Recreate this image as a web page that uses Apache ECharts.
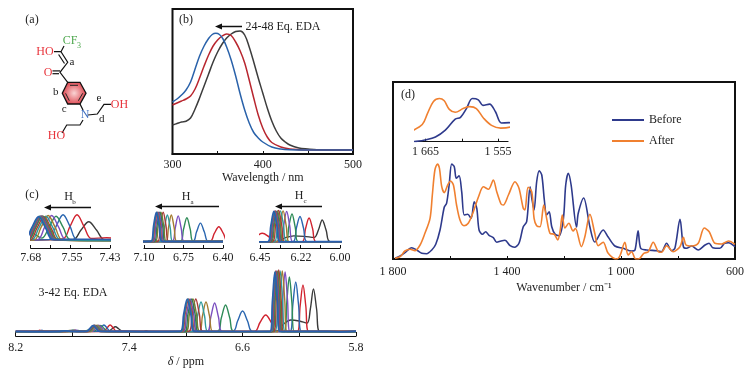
<!DOCTYPE html>
<html><head><meta charset="utf-8">
<style>html,body{margin:0;padding:0;background:#fff}#c{width:754px;height:370px}</style>
<script src="https://cdn.jsdelivr.net/npm/echarts@6/dist/echarts.min.js"></script>
</head><body><div id="c"></div>
<script>
const FONT = '"Liberation Serif", serif';

// (b) UV-vis: [wavelength nm, absorbance a.u.]
const uvBlack = [[300,29],[305,30.5],[310,32],[315,32.8],[320,36],[325,45],[330,56],[335,68],[340,80],[345,92],[350,102],[355,110],[360,116],[365,120],[370,122.5],[375,123],[380,119],[385,107],[390,92],[395,76],[400,61],[405,46],[410,33],[415,23],[420,16],[425,12],[430,9],[440,6],[450,5],[460,4.3],[500,4]];
const uvRed = [[300,49],[305,51],[310,53],[315,55],[320,58],[325,65],[330,76],[335,88],[340,99],[345,108],[350,114],[355,118],[360,120],[365,118.5],[370,112],[375,103],[380,91],[385,74],[390,56],[395,39],[400,26],[405,17],[410,11.5],[420,7],[430,5],[440,4.3],[450,4],[500,4]];
const uvBlue = [[300,52],[305,55],[310,59],[315,64],[320,72],[325,85],[330,98],[335,108],[340,115.5],[344,119.5],[348,120.7],[352,119.5],[356,115],[360,107],[365,94],[370,78],[375,60],[380,44],[385,31],[390,21.5],[395,16],[400,12],[410,7],[420,5],[430,4.3],[450,4],[500,4]];
const uvTicks = [300,350,400,450,500];
const uvLabels = [300,400,500];

// (c) 1H NMR titration: [ppm, intensity a.u.]
const nmr01 = [[5.8,.5],[6.055,.5],[6.078,23],[6.10,43],[6.122,23],[6.145,9],[6.20,11],[6.26,12],[6.31,8],[6.36,1],[6.55,.5],[7.26,.5],[7.28,1.4],[7.30,.5],[7.447,.6],[7.472,3],[7.497,5.2],[7.522,3],[7.547,.6],[8.2,.5]];
const nmr02 = [[5.8,.4],[6.134,.5],[6.154,26],[6.174,47],[6.194,26],[6.214,.5],[6.357,.5],[6.397,9.5],[6.437,17],[6.477,9.5],[6.517,.5],[7.38,.6],[7.44,1.1],[7.489,.9],[7.512,4],[7.534,7],[7.556,4],[7.579,.8],[7.70,.5],[8.01,.5],[8.03,1.8],[8.05,.5],[8.2,.5]];
const nmr03 = [[5.8,.6],[6.185,.6],[6.205,27],[6.225,50],[6.245,28],[6.265,.6],[6.53,.5],[6.565,11],[6.60,21],[6.635,11],[6.67,.5],[7.40,.5],[7.533,.6],[7.556,4],[7.578,7],[7.6,4],[7.623,.6],[7.76,.5],[7.80,1.5],[7.84,.5],[8.0,.5],[8.015,1.8],[8.03,.5],[8.2,.5]];
const nmr04 = [[5.8,.4],[6.235,.4],[6.252,29],[6.27,55],[6.288,30],[6.305,.4],[6.66,.5],[6.69,14],[6.72,27],[6.75,14],[6.78,.5],[7.45,.4],[7.555,.6],[7.578,3.8],[7.60,6.6],[7.622,3.8],[7.645,1],[7.68,2.4],[7.72,.5],[7.76,1.6],[7.80,.5],[8.2,.4]];
const nmr05 = [[5.8,.5],[6.265,.5],[6.283,32],[6.30,60],[6.317,32],[6.335,.5],[6.742,.4],[6.77,15],[6.797,29],[6.824,15],[6.852,.4],[7.5,.5],[7.569,.6],[7.592,3.8],[7.614,6.8],[7.636,3.8],[7.659,.6],[7.74,.6],[7.78,2],[7.82,.6],[8.2,.5]];
const nmr06 = [[5.8,.3],[6.285,.3],[6.303,33],[6.32,61],[6.337,33],[6.355,.3],[6.808,.5],[6.833,16],[6.858,30],[6.883,16],[6.908,.5],[7.5,.3],[7.58,.5],[7.603,3.8],[7.625,6.8],[7.647,3.8],[7.67,.5],[7.75,.4],[7.79,1.8],[7.83,.4],[8.2,.3]];
const nmr07 = [[5.8,.6],[6.30,.6],[6.318,33],[6.335,61],[6.352,33],[6.37,.6],[6.843,.4],[6.868,16],[6.893,30],[6.918,16],[6.943,.4],[7.5,.6],[7.587,.6],[7.61,3.7],[7.632,6.6],[7.654,3.7],[7.677,.6],[7.76,.6],[7.80,1.7],[7.84,.6],[8.2,.5]];
const nmr08 = [[5.8,.4],[6.31,.4],[6.328,33],[6.345,62],[6.362,33],[6.38,.4],[6.88,.6],[6.905,18],[6.93,33],[6.955,18],[6.98,.6],[7.5,.4],[7.593,.5],[7.616,3.6],[7.638,6.5],[7.66,3.6],[7.683,.5],[7.77,.5],[7.81,1.6],[7.85,.5],[8.2,.4]];
const nmr09 = [[5.8,.7],[6.317,.7],[6.335,33],[6.352,61],[6.369,33],[6.387,.7],[6.90,.5],[6.925,18],[6.95,33],[6.975,18],[7.0,.5],[7.5,.6],[7.597,.7],[7.62,3.7],[7.642,6.7],[7.664,3.7],[7.687,.7],[7.78,.6],[7.82,1.5],[7.86,.6],[8.2,.6]];
const nmr10 = [[5.8,.3],[6.323,.3],[6.341,32],[6.358,60],[6.375,32],[6.393,.3],[6.91,.4],[6.935,18],[6.96,33],[6.985,18],[7.01,.4],[7.5,.4],[7.6,.5],[7.623,3.6],[7.645,6.6],[7.667,3.6],[7.69,.5],[7.78,.5],[7.83,1.4],[7.87,.5],[8.2,.4]];
const nmr11 = [[5.8,.5],[6.327,.5],[6.345,33],[6.362,61],[6.379,33],[6.397,.5],[6.92,.6],[6.945,18],[6.97,33],[6.995,18],[7.02,.6],[7.5,.5],[7.602,.6],[7.625,3.7],[7.647,6.7],[7.669,3.7],[7.692,.6],[7.79,.5],[7.84,1.3],[7.88,.5],[8.2,.5]];
const nmr12 = [[5.8,.6],[6.331,.6],[6.349,33],[6.366,61],[6.383,33],[6.401,.6],[6.93,.4],[6.955,18],[6.98,33],[7.005,18],[7.03,.4],[7.5,.6],[7.605,.5],[7.628,3.6],[7.65,6.6],[7.672,3.6],[7.695,.5],[7.8,.6],[7.85,1.3],[7.89,.6],[8.2,.6]];
const nmr13 = [[5.8,.4],[6.334,.4],[6.352,32],[6.369,60],[6.386,32],[6.404,.4],[6.935,.5],[6.96,18],[6.985,33],[7.01,18],[7.035,.5],[7.5,.4],[7.607,.6],[7.63,3.6],[7.652,6.6],[7.674,3.6],[7.697,.6],[7.8,.4],[7.85,1.2],[7.9,.4],[8.2,.4]];
const nmr14 = [[5.8,.8],[5.9,.2],[6.0,.7],[6.337,.5],[6.355,32],[6.372,60],[6.389,32],[6.407,.5],[6.94,.6],[6.965,18],[6.99,33],[7.015,18],[7.04,.6],[7.3,.4],[7.5,.7],[7.61,.6],[7.633,3.6],[7.655,6.5],[7.677,3.6],[7.70,.6],[7.8,.6],[7.85,1.2],[7.9,.6],[8.03,.4],[8.2,.6]];
const nmrSpectra = [nmr01,nmr02,nmr03,nmr04,nmr05,nmr06,nmr07,nmr08,nmr09,nmr10,nmr11,nmr12,nmr13,nmr14];
const nmrColors = ['#3a3a3a','#d1232f','#2a66b0','#2e8b57','#7b4fc0','#a37c30','#2f9a9a','#a83a3a','#7a7a30','#2e7f4f','#6d4fb0','#c03838','#2f9090','#2a5fae'];
const nmrPanels = [
  {ticks:[7.68,7.6175,7.555,7.4925,7.43], labels:[7.68,7.55,7.43], digits:2},
  {ticks:[7.10,6.925,6.75,6.575,6.40], labels:[7.10,6.75,6.40], digits:2},
  {ticks:[6.45,6.3375,6.225,6.1125,6.00], labels:[6.45,6.22,6.00], digits:2},
  {ticks:[8.2,7.8,7.4,7.0,6.6,6.2,5.8], labels:[8.2,7.4,6.6,5.8], digits:1}
];

// (d) FT-IR: [wavenumber cm-1, transmittance a.u.]
const irBefore = [[1793,.7],[1775,3],[1758,6.3],[1734.5,11.3],[1717,9],[1699,5.7],[1682,5.3],[1664,9],[1650,14.7],[1635,29],[1620,52],[1612,55.7],[1603,74],[1594,95],[1585,92.3],[1578,80.7],[1568,83.3],[1559,67.3],[1550,44],[1538,44.7],[1526,40.7],[1515,57.3],[1506,50.7],[1498,29],[1486,24.7],[1475,27.3],[1463,23.7],[1448,21.3],[1436,16.7],[1421,18],[1407,18.7],[1389,13.3],[1374,11.7],[1358,15.7],[1343,32.3],[1331,37.3],[1319,72.3],[1313,60.7],[1305,49],[1296,77],[1287,88.3],[1278,84],[1269,59],[1261,44],[1252,47.3],[1243,32.3],[1231,24.7],[1217,23.3],[1202,40.7],[1194,74],[1185,85.7],[1175,74],[1156,32],[1150,45.7],[1131,61],[1109,32],[1092,17],[1062.5,29],[1045,22],[1021.5,13],[992,10.7],[963,8],[951,9],[940,28.3],[931,10.7],[910,9],[875,8.3],[858,7.3],[840,15.7],[822.6,8.3],[811,10.7],[793,39.7],[781,12.3],[770,10.7],[752,13],[729,9],[705,14],[691,15.7],[678,11.3],[653,10.7],[637,15.7],[623,16.3],[600,12.3]];
const irAfter = [[1793,.7],[1775,2.3],[1758,8],[1740,9.7],[1723,8.3],[1705,14],[1688,25.7],[1670,40.7],[1662,64],[1653,89],[1644,95],[1637,90.7],[1629,72.3],[1620,66.3],[1608,74],[1598,78],[1588,74],[1577,54],[1565,39],[1551,33.3],[1536,35.7],[1518,47.3],[1500,62.3],[1483,72.3],[1465,69.7],[1448,79],[1436,67.3],[1421,55],[1413,54],[1395,64],[1372,77.3],[1358,70.7],[1343,50.7],[1337,49],[1326,71.7],[1313,67],[1305,40.7],[1296,33.3],[1284,32.3],[1271,54],[1261,40.7],[1249,25.7],[1234,24.7],[1222,19],[1214,27.3],[1206,44],[1197,31],[1183,35.7],[1168,28],[1160,30.7],[1139,12.3],[1127,22],[1109,44.7],[1092,25.7],[1080,13.3],[1062.5,16.7],[1045,5.7],[1016,0],[1004,3],[986.5,16.7],[975,4],[963,7.3],[948,0],[934,.7],[920,5.7],[904,7.3],[887,16.7],[869,7.3],[858,6.7],[840,13.3],[817,7.3],[793,12.3],[781,21.7],[772,14],[752,13],[729,15.7],[708,31],[690.5,27.3],[670.5,15.7],[647,15],[623,18],[600,14.7]];
const irTicks = [1800,1600,1400,1200,1000,800,600];
const irLabels = [1800,1400,1000,600];
const insetTicks = [1665,1610,1555];
const insetLabels = [1665,1555];
const irNames = ['Before','After'];

function thousand(v){ v=Math.round(v); return v>=1000 ? Math.floor(v/1000)+' '+String(v%1000).padStart(3,'0') : String(v); }
const txt = {fontFamily:FONT,fontSize:12,color:'#222'};
function xAxis(gi,o){
  return {type:'value',gridIndex:gi,min:o.min,max:o.max,inverse:!!o.inverse,
    name:o.name||'',nameLocation:'middle',nameGap:o.nameGap||20,nameTextStyle:Object.assign({},txt,o.rich?{rich:o.rich}:{}),
    splitLine:{show:false},
    axisLine:{show:true,onZero:false,lineStyle:{color:'#111',width:o.lw||1.2}},
    axisTick:{show:true,inside:true,length:o.tl||3,customValues:o.ticks,lineStyle:{color:'#111',width:1}},
    axisLabel:Object.assign({},txt,{margin:o.margin||4,customValues:o.labels,formatter:o.fmt})};
}
function yAxis(gi,min,max){return {type:'value',gridIndex:gi,min:min,max:max,show:false,splitLine:{show:false}};}
function line(name,data,color,xi,yi,w,sm){
  return {name:name,type:'line',data:data,xAxisIndex:xi,yAxisIndex:yi,showSymbol:false,symbol:'none',silent:true,animation:false,
    smooth:sm===undefined?0.35:sm,clip:true,lineStyle:{color:color,width:w},itemStyle:{color:color}};
}
const fixed = d => v => v.toFixed(d);
const frame = {show:true,borderColor:'#111',borderWidth:2,backgroundColor:'transparent'};
const grids = [
  Object.assign({left:172.5,top:9,width:180.5,height:145},frame),
  {left:30.7,top:205,width:79.3,height:43},
  {left:144,top:205,width:79,height:43},
  {left:260,top:205,width:80,height:43},
  {left:15.7,top:262,width:340.3,height:74},
  Object.assign({left:393,top:82,width:342,height:177},frame),
  {left:415,top:96.7,width:93,height:45}
];
const xs = [
  xAxis(0,{min:300,max:500,ticks:uvTicks,labels:uvLabels,name:'Wavelength / nm',nameGap:16,margin:5,lw:2,fmt:v=>String(v)}),
  xAxis(1,{min:7.43,max:7.68,inverse:true,ticks:nmrPanels[0].ticks,labels:nmrPanels[0].labels,fmt:fixed(2)}),
  xAxis(2,{min:6.40,max:7.10,inverse:true,ticks:nmrPanels[1].ticks,labels:nmrPanels[1].labels,fmt:fixed(2)}),
  xAxis(3,{min:6.00,max:6.45,inverse:true,ticks:nmrPanels[2].ticks,labels:nmrPanels[2].labels,fmt:fixed(2)}),
  xAxis(4,{min:5.8,max:8.2,inverse:true,ticks:nmrPanels[3].ticks,labels:nmrPanels[3].labels,fmt:fixed(1),tl:4,margin:6,name:'{i|δ} / ppm',nameGap:20,
    rich:{i:{fontFamily:FONT,fontSize:12,fontStyle:'italic',color:'#222'}}}),
  xAxis(5,{min:600,max:1800,inverse:true,ticks:irTicks,labels:irLabels,name:'Wavenumber / cm⁻¹',nameGap:23,margin:7,lw:2,fmt:thousand}),
  xAxis(6,{min:1540,max:1681,inverse:true,ticks:insetTicks,labels:insetLabels,margin:4,fmt:thousand})
];
const ys = [yAxis(0,0,145),yAxis(1,-1.54,9.49),yAxis(2,-6.67,41.1),yAxis(3,-11.76,72.5),yAxis(4,-4,70),yAxis(5,0,177),yAxis(6,5,98.75)];
const series = [
  line('uvBlack',uvBlack,'#3d3d3d',0,0,1.5),
  line('uvRed',uvRed,'#b8262f',0,0,1.5),
  line('uvBlue',uvBlue,'#2a62aa',0,0,1.5)
];
const haEdge = [[6.40,.5]];
[1,2,3,4].forEach(g=>nmrSpectra.forEach((s,i)=>{
  // the Ha inset shows only the Ha window; the Hc cluster stays out of its right edge
  const d = (g===2 && i!==1) ? haEdge.concat(s.filter(p=>p[0]>=6.42)) : s;
  series.push(line('nmr'+(i+1),d,nmrColors[i],g,g,i===13?1.7:1.4));
}));
series.push(line(irNames[0],irBefore,'#2e3a8c',5,5,1.6,0.3));
series.push(line(irNames[1],irAfter,'#f08030',5,5,1.6,0.3));
series.push(line(irNames[0],irBefore,'#2e3a8c',6,6,1.6,0.35));
series.push(line(irNames[1],irAfter,'#f08030',6,6,1.6,0.35));

// annotations and the molecule of panel (a)
const g = [];
function T(text,x,y,o){o=o||{};g.push({type:'text',silent:true,style:{text:text,x:x,y:y,fill:o.c||'#222',font:(o.i?'italic ':'')+(o.s||12)+'px '+FONT,
  align:o.a||'center',verticalAlign:'middle',textAlign:o.a||'center',textVerticalAlign:'middle'}});}
function L(pts,o){o=o||{};g.push({type:'polyline',silent:true,shape:{points:pts},style:{stroke:o.c||'#111',lineWidth:o.w||1.2,fill:'none'}});}
function Arrow(x1,x2,y){ // from x1 (tail) to x2 (head) pointing left
  L([[x1,y],[x2+5,y]],{w:1.5});
  g.push({type:'polygon',silent:true,shape:{points:[[x2,y],[x2+7,y-3],[x2+7,y+3]]},style:{fill:'#111'}});
}
const RED='#e8343c',GREEN='#4fa84f',BLUE='#3f6fc0';
T('(a)',32,20); T('(b)',186,20); T('(c)',32,195); T('(d)',408,95);
T('24-48 Eq. EDA',283,27); Arrow(242,215,26.5);
T('3-42 Eq. EDA',73,293);
T('H',68.5,197); T('b',74,202.5,{s:7}); Arrow(91,44,207.5);
T('H',186,197); T('a',192,202.5,{s:7}); Arrow(219,155,206.5);
T('H',299,196); T('c',305,201.5,{s:7}); Arrow(322,275,206.5);
// molecule
g.push({type:'polygon',silent:true,shape:{points:[[67.7,82.3],[80,82.3],[86,93.3],[80,104],[67.7,104],[62.3,93.3]]},
  style:{stroke:'#111',lineWidth:1.3,fill:{type:'radial',x:.5,y:.5,r:.6,colorStops:[{offset:0,color:'#f9d4d4'},{offset:1,color:'#d92f3a'}]}}});
L([[70,85.3],[78,85.3]],{w:1,c:'#222'}); L([[82.7,93.3],[78.4,100.7]],{w:1,c:'#222'}); L([[65.6,93.3],[69.3,100.7]],{w:1,c:'#222'});
L([[54,51.7],[61,51.7],[64,46]]); L([[61,51.7],[67.7,62.3],[60,72.3],[67.7,82.3]]); L([[58.6,54.5],[64.5,63.5]]);
L([[52.5,70.9],[60,70.9]]); L([[52.5,73.7],[59,73.7]]);
L([[80,104],[83,110]]); L([[88,115],[97.3,114],[104,104.3],[111,104.3]]); L([[83,120],[80,125],[66.7,125],[62,133]]);
T('CF',70,41,{c:GREEN}); T('3',79,46,{c:GREEN,s:8});
T('HO',45,52,{c:RED}); T('O',48,72.5,{c:RED}); T('N',85,115,{c:BLUE}); T('OH',119.5,104.5,{c:RED}); T('HO',56.5,135.5,{c:RED});
T('a',72,62,{s:11}); T('b',55.7,92,{s:11}); T('c',64.3,109,{s:11}); T('e',99,98,{s:11}); T('d',101.7,119.5,{s:11});

const chart = echarts.init(document.getElementById('c'),null,{renderer:'canvas'});
chart.setOption({
  animation:false,backgroundColor:'#fff',textStyle:{fontFamily:FONT},
  grid:grids,xAxis:xs,yAxis:ys,series:series,
  legend:{data:irNames,orient:'vertical',left:607,top:109,itemWidth:32,itemHeight:2,itemGap:9,icon:'rect',selectedMode:false,
    textStyle:{fontFamily:FONT,fontSize:12,color:'#222'}},
  graphic:{elements:g}
});
</script></body></html>
